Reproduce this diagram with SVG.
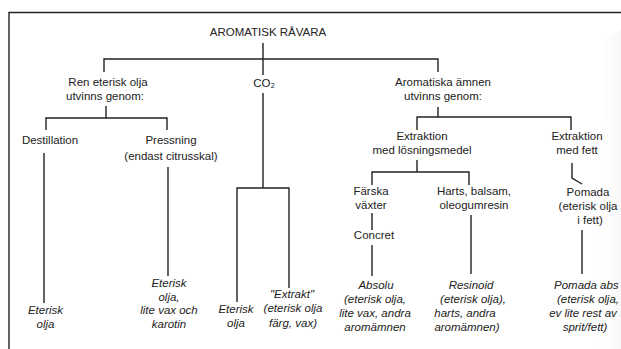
<svg xmlns="http://www.w3.org/2000/svg" width="621" height="349" viewBox="0 0 621 349">
<defs>
<linearGradient id="shade" x1="0" y1="0" x2="1" y2="0">
<stop offset="0" stop-color="#ffffff" stop-opacity="0"/>
<stop offset="1" stop-color="#f7f7f7" stop-opacity="1"/>
</linearGradient>
</defs>
<style>
text{font-family:"Liberation Sans",Arial,sans-serif;font-size:11.5px;fill:#222;text-anchor:middle}
.i{font-style:italic}
.s{text-anchor:start}
.c line,.c polyline,.frame{stroke:#222;stroke-width:1.4;fill:none}
</style>
<rect width="621" height="349" fill="#fff"/>
<polygon points="604,40 621,30 621,349 594,349" fill="url(#shade)"/>
<g id="frame"><polyline class="frame" points="9,349 9,12.5 621,12.5" stroke="#222" stroke-width="1.4" fill="none"/></g>
<g class="c" id="connectors">
<line x1="263" y1="43" x2="263" y2="75"/>
<polyline points="104,72 104,59 438,59 438,72"/>
<line x1="263" y1="93" x2="263" y2="188"/>
<polyline points="237,302 237,188 289,188 289,288"/>
<line x1="106" y1="106" x2="106" y2="118"/>
<polyline points="46,130 46,118 167,118 167,130"/>
<line x1="44" y1="153" x2="44" y2="303"/>
<line x1="168" y1="167" x2="168" y2="276"/>
<line x1="438" y1="107" x2="438" y2="117"/>
<polyline points="417,130 417,117 571,117 571,130"/>
<line x1="417" y1="160" x2="417" y2="172"/>
<polyline points="372,185 372,172 469,172 469,185"/>
<polyline points="572,163 572,178 582,184"/>
<line x1="372" y1="213" x2="372" y2="230"/>
<line x1="372" y1="245" x2="372" y2="276"/>
<line x1="471" y1="215" x2="471" y2="274"/>
<line x1="582" y1="230" x2="582" y2="274"/>
</g>
<g id="root"><text x="268" y="36">AROMATISK RÅVARA</text></g>
<g id="ren"><text x="108" y="86">Ren eterisk olja</text><text x="105" y="100">utvinns genom:</text></g>
<g id="co2"><text x="264" y="87">CO₂</text></g>
<g id="arom"><text x="443" y="86">Aromatiska ämnen</text><text x="443" y="100">utvinns genom:</text></g>
<g id="destillation"><text x="50" y="144">Destillation</text></g>
<g id="pressning"><text x="171" y="144">Pressning</text><text x="171" y="160">(endast citrusskal)</text></g>
<g id="extr-losn"><text x="422" y="140">Extraktion</text><text x="422" y="154">med lösningsmedel</text></g>
<g id="extr-fett"><text x="577" y="140">Extraktion</text><text x="577" y="154">med fett</text></g>
<g id="farska"><text x="371" y="195">Färska</text><text x="371" y="209">växter</text></g>
<g id="concret"><text x="374" y="239">Concret</text></g>
<g id="harts"><text x="474" y="195">Harts, balsam,</text><text x="474" y="209">oleogumresin</text></g>
<g id="pomada"><text x="588" y="196">Pomada</text><text x="588" y="210">(eterisk olja</text><text x="590" y="224">i fett)</text></g>
<g id="res-dest"><text class="i" x="45.5" y="314">Eterisk</text><text class="i" x="45.5" y="328">olja</text></g>
<g id="res-press"><text class="i" x="169" y="287">Eterisk</text><text class="i" x="169" y="301">olja,</text><text class="i" x="169" y="314">lite vax och</text><text class="i" x="169" y="328">karotin</text></g>
<g id="res-co2a"><text class="i" x="236" y="313">Eterisk</text><text class="i" x="236" y="327">olja</text></g>
<g id="res-co2b"><text class="i" x="292" y="298">"Extrakt"</text><text class="i" x="293" y="312">(eterisk olja</text><text class="i" x="293" y="327">färg, vax)</text></g>
<g id="absolu"><text class="i" x="376" y="289">Absolu</text><text class="i" x="375" y="303">(eterisk olja,</text><text class="i" x="375" y="317">lite vax, andra</text><text class="i" x="375" y="331">aromämnen</text></g>
<g id="resinoid"><text class="i" x="471" y="289">Resinoid</text><text class="i" x="473" y="303">(eterisk olja),</text><text class="i" x="465" y="317">harts, andra</text><text class="i" x="467" y="331">aromämnen)</text></g>
<g id="pomada-abs"><text class="i s" x="554" y="289">Pomada abs</text><text class="i" x="588" y="303">(eterisk olja,</text><text class="i" x="583" y="317">ev lite rest av</text><text class="i" x="585" y="331">sprit/fett)</text></g>
</svg>
